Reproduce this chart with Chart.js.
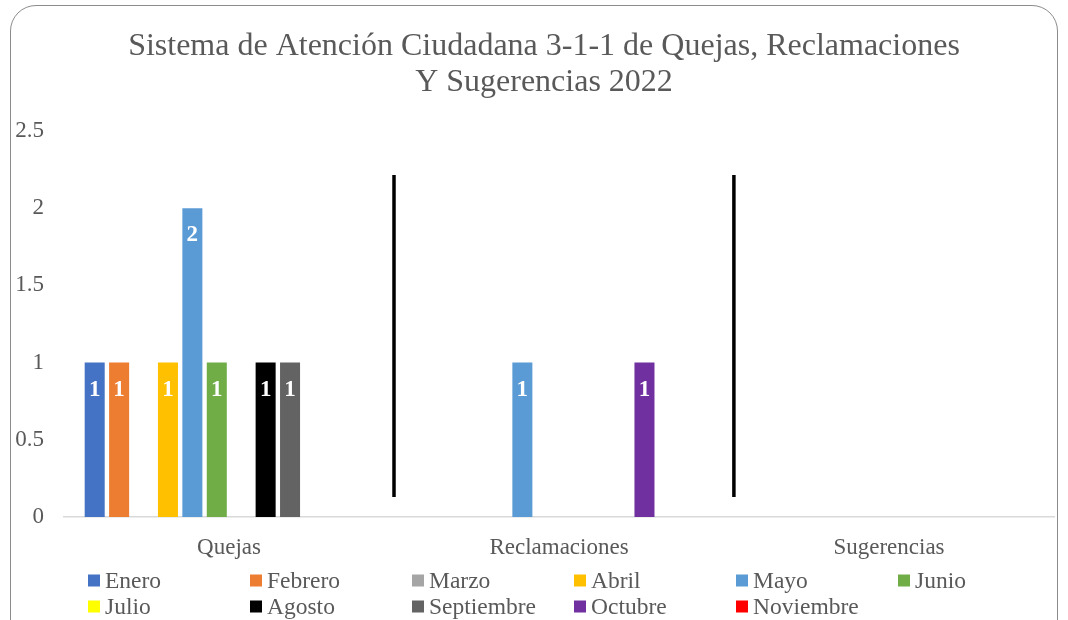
<!DOCTYPE html>
<html lang="es">

<head>
  <meta charset="UTF-8">
  <title>Sistema de Atención Ciudadana 3-1-1</title>
  <script src="https://cdn.jsdelivr.net/npm/chart.js"></script>
  <style>
    html,
    body {
      margin: 0;
      padding: 0;
      overflow: hidden;
      background: #fff;
    }

    .frame {
      position: absolute;
      left: 10px;
      top: 5px;
      width: 1046px;
      height: 660px;
      border: 1.5px solid #8c8c8c;
      border-radius: 26px;
    }

    .wrap {
      position: absolute;
      left: 0;
      top: 0;
      width: 1068px;
      height: 620px;
    }
  </style>
</head>

<body>
  <div class="frame"></div>
  <div class="wrap">
    <canvas id="chart"></canvas>
  </div>
  <script>
    // categorías y valores por mes
    const categorias = ['Quejas', 'Reclamaciones', 'Sugerencias'];
    const meses = ['Enero', 'Febrero', 'Marzo', 'Abril', 'Mayo', 'Junio', 'Julio', 'Agosto', 'Septiembre', 'Octubre', 'Noviembre', 'Diciembre'];
    const colores = ['#4472C4', '#ED7D31', '#A5A5A5', '#FFC000', '#5B9BD5', '#70AD47', '#FFFF00', '#000000', '#636363', '#7030A0', '#FF0000', '#264478'];

    const enero = [1, 0, 0];
    const febrero = [1, 0, 0];
    const marzo = [0, 0, 0];
    const abril = [1, 0, 0];
    const mayo = [2, 1, 0];
    const junio = [1, 0, 0];
    const julio = [0, 0, 0];
    const agosto = [1, 0, 0];
    const septiembre = [1, 0, 0];
    const octubre = [0, 1, 0];
    const noviembre = [0, 0, 0];
    const diciembre = [0, 0, 0];
    const valores = [enero, febrero, marzo, abril, mayo, junio, julio, agosto, septiembre, octubre, noviembre, diciembre];

    const yTicks = [0, 0.5, 1, 1.5, 2, 2.5];

    const titulo = ['Sistema de Atención Ciudadana 3-1-1 de Quejas, Reclamaciones', 'Y Sugerencias 2022'];

    // líneas separadoras (en unidades de los ejes)
    const separadores = [0.5, 1.53];

    const fuente = "'Liberation Serif', 'Times New Roman', serif";
    const gris = '#595959';

    const datasets = meses.map((mes, i) => {
      return {
        label: mes,
        data: valores[i],
        backgroundColor: colores[i],
        barPercentage: 0.82,
        categoryPercentage: 0.888
      };
    });

    // título (centrado sobre el marco, no sobre el canvas)
    const tituloPlugin = {
      id: 'tituloPlugin',
      afterDraw(chart) {
        const ctx = chart.ctx;
        ctx.save();
        ctx.fillStyle = gris;
        ctx.font = `32px ${fuente}`;
        ctx.textAlign = 'center';
        ctx.textBaseline = 'middle';
        titulo.forEach((linea, i) => {
          ctx.fillText(linea, 544, 47 + i * 36);
        });
        ctx.restore();
      }
    };

    // etiquetas de datos blancas dentro de la barra
    const etiquetas = {
      id: 'etiquetas',
      afterDatasetsDraw(chart) {
        const ctx = chart.ctx;
        ctx.save();
        ctx.fillStyle = '#fff';
        ctx.font = `bold 23px ${fuente}`;
        ctx.textAlign = 'center';
        ctx.textBaseline = 'middle';
        chart.data.datasets.forEach((ds, i) => {
          chart.getDatasetMeta(i).data.forEach((bar, j) => {
            if (ds.data[j] > 0) {
              ctx.fillText(ds.data[j], bar.x, bar.y + 27);
            }
          });
        });
        ctx.restore();
      }
    };

    // líneas negras entre categorías
    const lineas = {
      id: 'lineas',
      afterDatasetsDraw(chart) {
        const ctx = chart.ctx;
        const x = chart.scales.x;
        const y = chart.scales.y;
        ctx.save();
        ctx.strokeStyle = '#000';
        ctx.lineWidth = 3.5;
        separadores.forEach(v => {
          const px = x.getPixelForValue(v);
          ctx.beginPath();
          ctx.moveTo(px, y.getPixelForValue(2.215));
          ctx.lineTo(px, y.getPixelForValue(0.13));
          ctx.stroke();
        });
        ctx.restore();
      }
    };

    // leyenda en columnas
    const leyenda = {
      id: 'leyenda',
      afterDraw(chart) {
        const ctx = chart.ctx;
        const items = chart.data.datasets.slice(0, 11);
        ctx.save();
        ctx.font = `23.5px ${fuente}`;
        ctx.textBaseline = 'middle';
        ctx.textAlign = 'left';
        items.forEach((ds, i) => {
          const col = i % 6;
          const row = Math.floor(i / 6);
          const bx = 88 + col * 162;
          const by = 580.5 + row * 26;
          ctx.fillStyle = ds.backgroundColor;
          ctx.fillRect(bx, by - 6, 12, 12);
          ctx.fillStyle = gris;
          ctx.fillText(ds.label, bx + 17, by + 1);
        });
        ctx.restore();
      }
    };

    new Chart(document.getElementById('chart'), {
      type: 'bar',
      data: {
        labels: categorias,
        datasets: datasets
      },
      options: {
        responsive: true,
        maintainAspectRatio: false,
        animation: false,
        layout: {
          padding: {
            left: 10,
            right: 14,
            top: 131,
            bottom: 60
          }
        },
        plugins: {
          legend: {
            display: false
          },
          tooltip: {
            enabled: false
          },
          title: {
            display: false
          }
        },
        scales: {
          x: {
            grid: {
              display: false,
              drawTicks: false
            },
            border: {
              color: '#d9d9d9',
              width: 1.5
            },
            ticks: {
              color: gris,
              padding: 17,
              font: {
                family: fuente,
                size: 23
              }
            },
            afterFit(scale) {
              scale.height = 43;
            }
          },
          y: {
            min: 0,
            max: 2.5,
            grid: {
              display: false,
              drawTicks: false
            },
            border: {
              display: false
            },
            afterBuildTicks(scale) {
              scale.ticks = yTicks.map(v => ({ value: v }));
            },
            ticks: {
              color: gris,
              padding: 20,
              font: {
                family: fuente,
                size: 23
              },
              callback: v => String(v)
            },
            afterFit(scale) {
              scale.width = 54;
            }
          }
        }
      },
      plugins: [etiquetas, lineas, leyenda, tituloPlugin]
    });
  </script>
</body>

</html>
